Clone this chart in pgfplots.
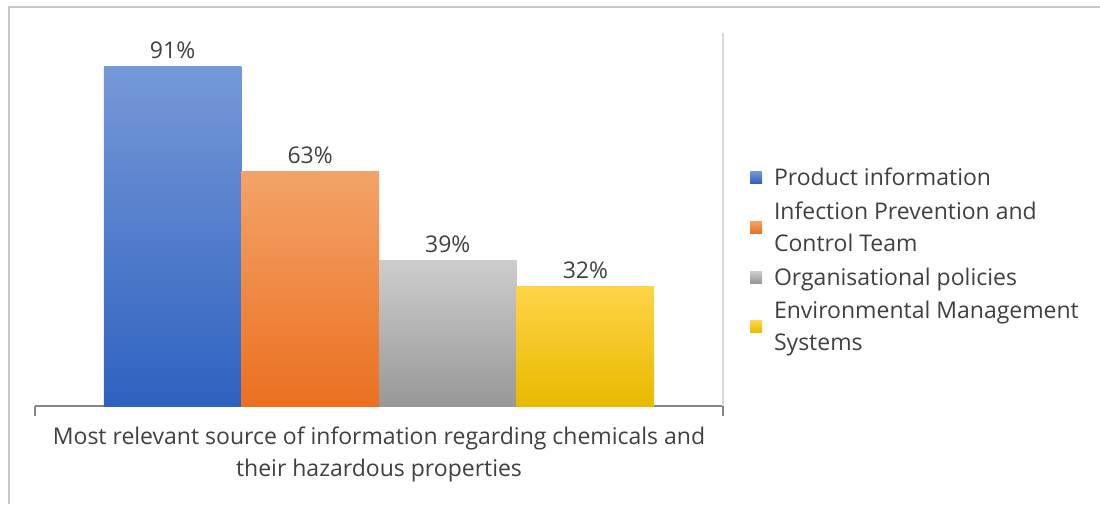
\documentclass[border=0pt]{standalone}
\usepackage{fontspec}
\setmainfont{Open Sans}
\usepackage{pgfplots}
\pgfplotsset{compat=1.18}

\definecolor{blueTop}{RGB}{118,153,215}
\definecolor{blueBot}{RGB}{47,97,192}
\definecolor{orgTop}{RGB}{243,163,104}
\definecolor{orgBot}{RGB}{235,112,32}
\definecolor{gryTop}{RGB}{205,205,205}
\definecolor{gryBot}{RGB}{152,152,152}
\definecolor{ylwTop}{RGB}{255,212,72}
\definecolor{ylwBot}{RGB}{232,185,0}
\definecolor{blueKey}{RGB}{68,114,196}
\definecolor{orgKey}{RGB}{237,125,49}
\definecolor{gryKey}{RGB}{165,165,165}
\definecolor{ylwKey}{RGB}{255,192,0}
\definecolor{txtGray}{RGB}{64,64,64}
\definecolor{frameGray}{RGB}{200,200,200}
\definecolor{axisGray}{RGB}{134,134,134}
\definecolor{rightGray}{RGB}{217,217,217}

\begin{document}
\begin{tikzpicture}[x=1pt,y=1pt]
\path[use as bounding box] (0,0) rectangle (1100,504);
\fill[white] (0,0) rectangle (1100,504);
\draw[line width=2pt, draw=frameGray] (9,0) -- (9,497) -- (1100,497);
\begin{axis}[
  at={(35pt,98pt)}, anchor=south west, scale only axis,
  width=688pt, height=373pt,
  xmin=-1, xmax=4, ymin=0, ymax=100,
  axis x line*=bottom, axis y line*=right,
  x axis line style={draw=axisGray, line width=1.5pt},
  y axis line style={draw=rightGray, line width=1.5pt},
  ytick=\empty,
  xtick={-1,4}, xticklabels={,},
  tick align=outside, major tick length=10pt,
  xtick style={draw=axisGray, line width=1.5pt},
  ybar, bar width=1, bar shift=0pt,
  nodes near coords={\pgfmathprintnumber{\pgfplotspointmeta}\%},
  every node near coord/.append style={font=\fontsize{23}{26}\selectfont, color=txtGray, anchor=base, inner sep=0pt, yshift=8pt},
  /pgf/number format/assume math mode=true,
  xlabel={Most relevant source of information regarding chemicals and\\their hazardous properties},
  xlabel style={align=center, font=\fontsize{23}{31.5}\selectfont, color=txtGray, at={(axis description cs:0.5,0)}, anchor=north, inner sep=0pt, yshift=-21pt},
  legend cell align=left,
  legend style={at={(1.039,0.391)}, anchor=west, draw=none, fill=none,
    font=\fontsize{23}{32.5}\selectfont, text=txtGray, inner sep=0pt,
    cells={align=left}, nodes={inner sep=0pt}, row sep=14.5pt, column sep=12pt},
]
\addplot[draw=none, top color=blueTop, bottom color=blueBot,
  legend image code/.code={\fill[blueKey] (0pt,-6pt) rectangle (12pt,6pt);}]
  coordinates {(0,91)};
\addplot[draw=none, top color=orgTop, bottom color=orgBot,
  legend image code/.code={\fill[orgKey] (0pt,-6pt) rectangle (12pt,6pt);}]
  coordinates {(1,63)};
\addplot[draw=none, top color=gryTop, bottom color=gryBot,
  legend image code/.code={\fill[gryKey] (0pt,-6pt) rectangle (12pt,6pt);}]
  coordinates {(2,39)};
\addplot[draw=none, top color=ylwTop, bottom color=ylwBot,
  legend image code/.code={\fill[ylwKey] (0pt,-6pt) rectangle (12pt,6pt);}]
  coordinates {(3,32)};
\legend{Product information, {Infection Prevention and\\Control Team}, Organisational policies, {Environmental Management\\Systems}}
\end{axis}
\end{tikzpicture}
\end{document}
